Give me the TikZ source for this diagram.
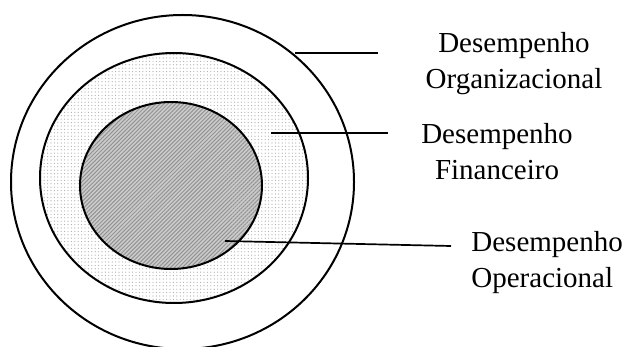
\documentclass[tikz,border=0pt]{standalone}
\usepackage{fontspec}
\setmainfont{Liberation Serif}
\usetikzlibrary{patterns.meta}

\begin{document}
\begin{tikzpicture}[x=0.5pt, y=-0.5pt,
  ring/.style={draw=black, line width=1pt},
  leader/.style={draw=black, line width=0.85pt},
  lbl/.style={inner sep=0pt, font=\fontsize{14.5}{18}\selectfont}]
\useasboundingbox (0,0) rectangle (625,347);

% Outer ring (organizational)
\draw[ring, fill=white] (182.5,182) ellipse [x radius=171.5, y radius=167];

% Middle ring (financial), dotted
\fill[white] (174,178) ellipse [x radius=134, y radius=125];
\fill[pattern={Dots[distance=1.7pt, radius=0.3pt]}, pattern color=gray!65]
  (174,178) ellipse [x radius=134, y radius=125];
\draw[ring] (174,178) ellipse [x radius=134, y radius=125];

% Inner core (operational), hatched
\fill[gray!40] (171,185.5) ellipse [x radius=91, y radius=83.5];
\fill[pattern={Lines[angle=45, distance=1.4pt, line width=0.5pt]}, pattern color=gray!85]
  (171,185.5) ellipse [x radius=91, y radius=83.5];
\draw[ring] (171,185.5) ellipse [x radius=91, y radius=83.5];

% Leader lines
\coordinate (orgTip) at (295,53);
\coordinate (orgEnd) at (378,53);
\coordinate (finTip) at (271,133);
\coordinate (finEnd) at (388,133);
\coordinate (opTip) at (225,241);
\coordinate (opEnd) at (451,246);
\draw[leader] (orgTip) -- (orgEnd);
\draw[leader] (finTip) -- (finEnd);
\draw[leader] (opTip) -- (opEnd);

% Labels (base = last line)
\node[lbl, align=center, anchor=base] (org) at (514,89) {Desempenho\\Organizacional};
\node[lbl, align=center, anchor=base] (fin) at (497,180) {Desempenho\\Financeiro};
\node[lbl, align=left, anchor=base west] (op) at (471,287) {Desempenho\\Operacional};
\end{tikzpicture}
\end{document}
